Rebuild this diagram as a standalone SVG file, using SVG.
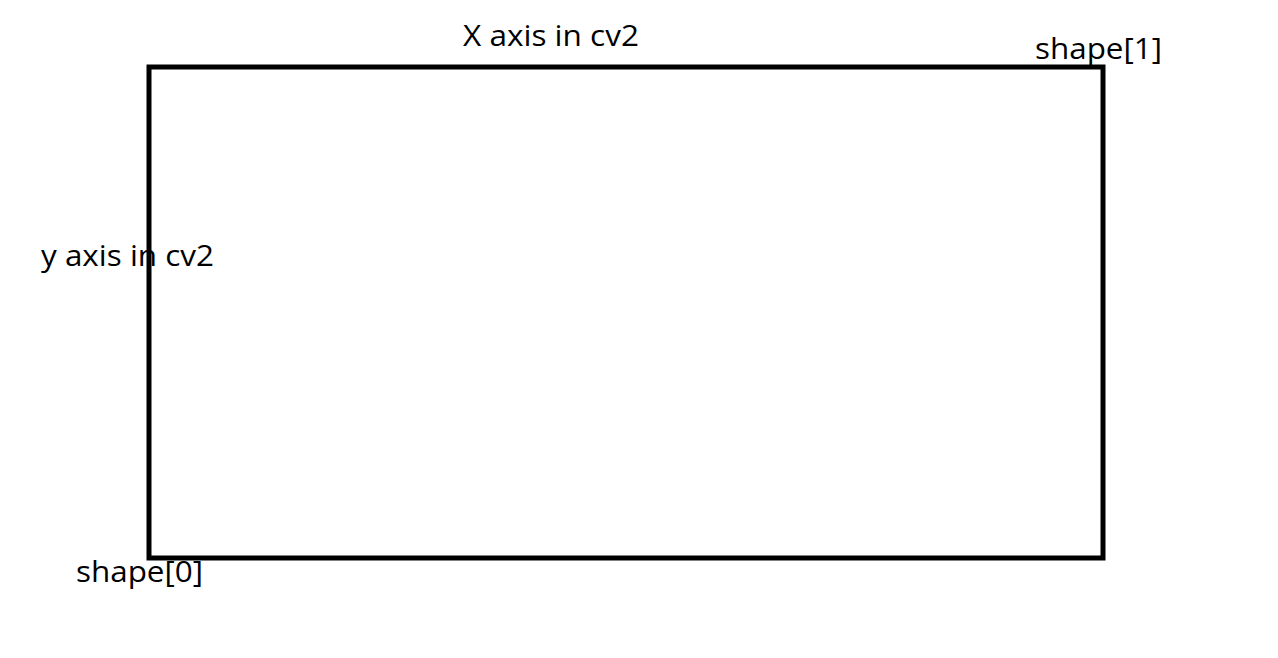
<svg xmlns="http://www.w3.org/2000/svg" width="1278" height="658" viewBox="0 0 1278 658">
<style>
text{font-family:"Open Sans","Liberation Sans",sans-serif;font-size:28.5px;fill:#000}
</style>
<rect width="1278" height="658" fill="#fff"/>
<g id="frame"><rect x="149" y="67" width="954" height="491" fill="none" stroke="#000" stroke-width="5"/></g>
<g id="labels">
<text x="463" y="46" textLength="176" lengthAdjust="spacingAndGlyphs">X axis in cv2</text>
<text x="1035" y="59" textLength="127" lengthAdjust="spacingAndGlyphs">shape[1]</text>
<text x="41" y="266" textLength="173" lengthAdjust="spacingAndGlyphs">y axis in cv2</text>
<text x="76" y="582" textLength="127" lengthAdjust="spacingAndGlyphs">shape[0]</text>
</g>
</svg>
